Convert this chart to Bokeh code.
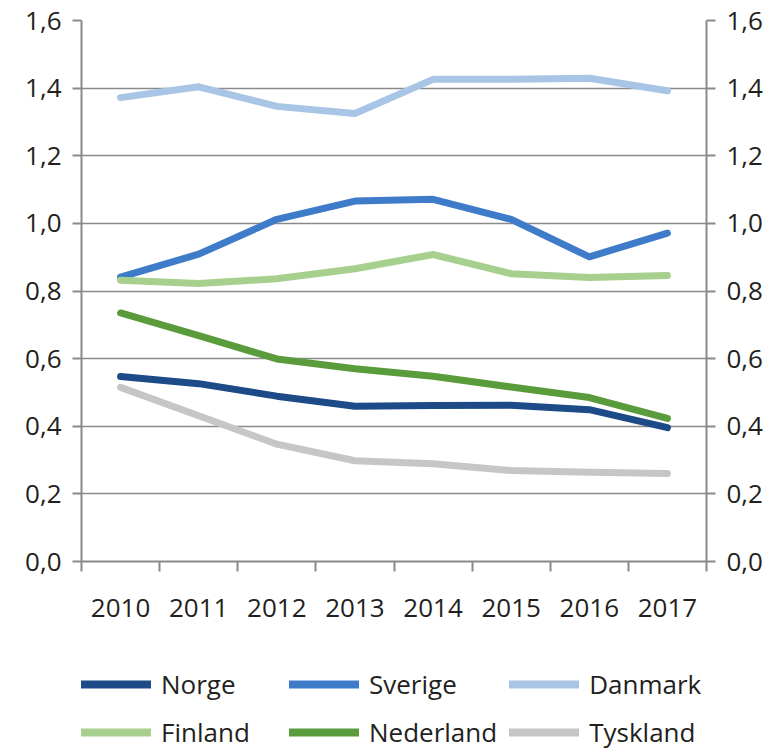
from bokeh.plotting import figure
from bokeh.layouts import column
from bokeh.models import (Range1d, LinearAxis, FixedTicker, CustomJSTickFormatter,
                          Legend, LegendItem)
from bokeh.embed import file_html
from bokeh.resources import INLINE

years = [2010, 2011, 2012, 2013, 2014, 2015, 2016, 2017]
norge = [0.547, 0.526, 0.489, 0.459, 0.461, 0.462, 0.449, 0.396]
sverige = [0.841, 0.909, 1.012, 1.066, 1.071, 1.012, 0.901, 0.971]
danmark = [1.372, 1.404, 1.346, 1.325, 1.426, 1.426, 1.429, 1.392]
finland = [0.832, 0.822, 0.836, 0.866, 0.908, 0.851, 0.840, 0.846]
nederland = [0.735, 0.668, 0.599, 0.570, 0.548, 0.516, 0.485, 0.423]
tyskland = [0.515, 0.431, 0.347, 0.298, 0.289, 0.269, 0.264, 0.260]
y_ticks = [0.0, 0.2, 0.4, 0.6, 0.8, 1.0, 1.2, 1.4, 1.6]

series = [
    ("Norge", norge, "#1c4b87"),
    ("Sverige", sverige, "#3e7cc9"),
    ("Danmark", danmark, "#a9c5e6"),
    ("Finland", finland, "#a7d08e"),
    ("Nederland", nederland, "#5a9c3c"),
    ("Tyskland", tyskland, "#c6c6c6"),
]

FONT = "Open Sans"
TXT = "#231f20"
AX = "#8a8a8a"

p = figure(width=777, height=650, output_backend="svg", toolbar_location=None,
           x_range=Range1d(years[0] - 0.5, years[-1] + 0.5),
           y_range=Range1d(y_ticks[0], y_ticks[-1]),
           min_border_left=81, min_border_right=71, min_border_top=20,
           min_border_bottom=89, x_axis_location=None, y_axis_location=None)
p.outline_line_color = None
p.xgrid.visible = False
p.ygrid.ticker = FixedTicker(ticks=y_ticks)
p.ygrid.grid_line_color = AX
p.ygrid.grid_line_width = 1.5

fmt = CustomJSTickFormatter(code="return tick.toFixed(1).replace('.', ',');")

def style_axis(ax):
    ax.axis_line_color = AX
    ax.axis_line_width = 2
    ax.major_tick_line_color = AX
    ax.major_tick_line_width = 2
    ax.minor_tick_line_color = AX
    ax.minor_tick_line_width = 2
    ax.major_label_text_font = FONT
    ax.major_label_text_font_size = "26px"
    ax.major_label_text_color = TXT

xaxis = LinearAxis(ticker=FixedTicker(ticks=years,
                                      minor_ticks=[y - 0.5 for y in years] + [years[-1] + 0.5]))
style_axis(xaxis)
xaxis.major_tick_in = 0
xaxis.major_tick_out = 0
xaxis.minor_tick_in = 0
xaxis.minor_tick_out = 10
xaxis.major_label_standoff = 27
p.add_layout(xaxis, "below")

for side in ("left", "right"):
    ax = LinearAxis(ticker=FixedTicker(ticks=y_ticks), formatter=fmt)
    style_axis(ax)
    ax.major_tick_in = 0
    ax.major_tick_out = 9
    ax.minor_tick_out = 0
    ax.minor_tick_in = 0
    ax.major_label_standoff = 11
    p.add_layout(ax, side)

for name, vals, col in series:
    p.line(years, vals, line_color=col, line_width=7, line_join="round",
           line_cap="round")

# legend strip below the chart (its copies of the series lie outside its view)
pl = figure(width=777, height=102, output_backend="svg", toolbar_location=None,
            x_range=Range1d(years[0] - 0.5, years[-1] + 0.5),
            y_range=Range1d(y_ticks[-1] + 1, y_ticks[-1] + 2),
            min_border_left=73, min_border_right=0, min_border_top=16,
            min_border_bottom=0, x_axis_location=None, y_axis_location=None)
pl.outline_line_color = None
pl.xgrid.visible = False
pl.ygrid.visible = False
items = []
for name, vals, col in series:
    r = pl.line(years, vals, line_color=col, line_width=8, line_cap="round")
    items.append(LegendItem(label=name, renderers=[r]))

lg = Legend(items=items, orientation="horizontal", ncols=3, location="top_left")
lg.border_line_color = None
lg.background_fill_alpha = 0
lg.padding = 0
lg.margin = 0
lg.spacing = 12
lg.label_width = 116
lg.glyph_width = 70
lg.glyph_height = 22
lg.label_height = 22
lg.label_standoff = 10
lg.label_text_font = FONT
lg.label_text_font_size = "26px"
lg.label_text_color = TXT
pl.add_layout(lg, "center")

layout = column(p, pl, spacing=0)
open("out.html", "w").write(file_html(layout, INLINE))
